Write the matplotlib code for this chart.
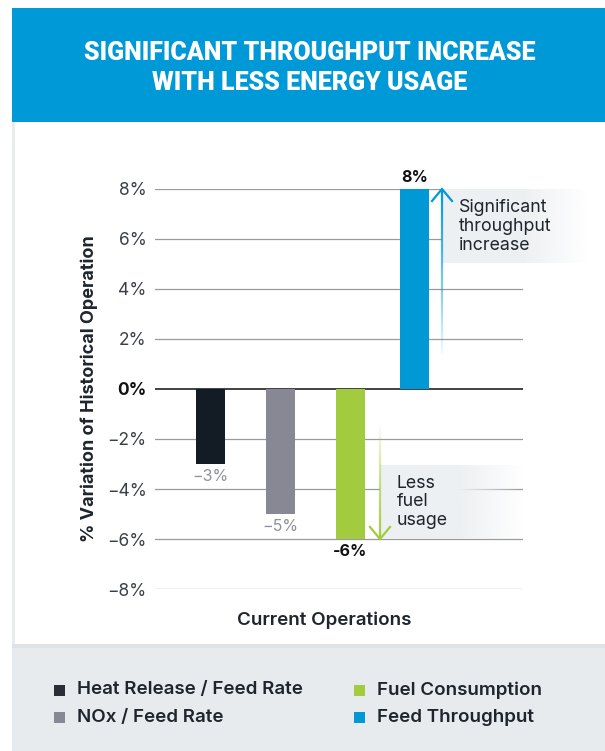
import numpy as np
import matplotlib.pyplot as plt
from matplotlib.patches import Rectangle
from matplotlib.collections import LineCollection

# dados
categorias = ["Heat Release / Feed Rate", "NOx / Feed Rate", "Fuel Consumption", "Feed Throughput"]
variacao = [-3, -5, -6, 8]
cores = ["#131c24", "#878893", "#a3cb3e", "#0099d6"]
yticks = [-8, -6, -4, -2, 0, 2, 4, 6, 8]
titulo = "SIGNIFICANT THROUGHPUT INCREASE\nWITH LESS ENERGY USAGE"

plt.rcParams["font.family"] = ["Inter", "DejaVu Sans"]

W, H = 605, 751
fig = plt.figure(figsize=(W / 100, H / 100), dpi=100)

# fundo em coordenadas de pixel
bg = fig.add_axes([0, 0, 1, 1])
bg.set_xlim(0, W)
bg.set_ylim(H, 0)
bg.axis("off")
bg.add_patch(Rectangle((12, 8), W - 12, 114, color="#0099d7", lw=0))
bg.text(310, 68, titulo, color="white", fontsize=18, fontweight="black",
        family="Roboto", ha="center", va="center", linespacing=1.3)
bg.add_patch(Rectangle((12, 122), 3, 526, color="#e9ecef", lw=0))
bg.add_patch(Rectangle((12, 644), W - 12, 4, color="#dfe3e6", lw=0))
bg.add_patch(Rectangle((12, 648), W - 12, H - 648, color="#e8ebee", lw=0))

# legenda em duas colunas
for i, nome in enumerate(categorias):
    x0 = [54, 354][i // 2]
    y0 = [690, 717.5][i % 2]
    bg.add_patch(Rectangle((x0, y0 - 5.5), 11, 11, color=cores[i] if i != 0 else "#2a2f36", lw=0))
    bg.text(x0 + 23, y0, nome, fontsize=13.5, fontweight="semibold",
            color="#1e252c", va="center", ha="left")

# eixo principal
pos = [0, 1, 2, 2.92]
ax = fig.add_axes([155 / W, (H - 589) / H, (523 - 155) / W, 400 / H])
ax.set_xlim(-55.5 / 70, (523 - 210.5) / 70)
ax.set_ylim(-8, 8)
for s in ax.spines.values():
    s.set_visible(False)
ax.set_yticks(yticks)
ax.set_yticklabels([f"{v}%".replace("-", "\u2212") for v in yticks])
ax.tick_params(axis="y", length=0, pad=6, labelsize=12.5, labelcolor="#3a3f45")
ax.tick_params(axis="x", length=0, labelbottom=False)
for lab in ax.get_yticklabels():
    if lab.get_text() == "0%":
        lab.set_fontweight("bold")
        lab.set_color("#111111")
for v in yticks:
    ax.axhline(v, color="#9a9a9a" if v != 0 else "#333333", lw=0.9 if v != 0 else 1.3, zorder=1)

ax.bar(pos, variacao, width=29 / 70, color=cores, zorder=3)

# rótulos dos valores
for p, v in zip(pos, variacao):
    destaque = v in (8, -6)
    y = v + (0.15 if v > 0 else -0.2)
    ax.text(p, y, f"{v}%".replace("-", "\u2212") if not destaque else f"{v}%",
            ha="center", va="bottom" if v > 0 else "top", fontsize=11.5,
            fontweight="bold" if destaque else "normal",
            color="#111111" if destaque else "#8f9296", zorder=5, clip_on=False)

ax.set_ylabel("% Variation of Historical Operation", fontsize=13, fontweight="bold",
              color="#1e252c", labelpad=6)
ax.set_xlabel("Current Operations", fontsize=13.5, fontweight="semibold", color="#1e252c")
ax.xaxis.set_label_coords(0.46, -0.056)


def caixa(x0, x1, y0, y1):
    grad = np.ones((2, 256, 4))
    base = np.array([0xed, 0xf0, 0xf2]) / 255
    grad[..., :3] = base
    a = np.clip((1 - np.linspace(0, 1, 256)) / 0.45, 0, 1)
    grad[..., 3] = a
    ax.imshow(grad, extent=(x0, x1, y0, y1), aspect="auto", zorder=2,
              clip_on=False, interpolation="bilinear")


def seta(x, y_ini, y_fim, cor):
    ys = np.linspace(y_ini, y_fim, 60)
    segs = [[(x, ys[i]), (x, ys[i + 1])] for i in range(len(ys) - 1)]
    rgba = np.array([plt.matplotlib.colors.to_rgba(cor)] * len(segs))
    rgba[:, 3] = np.linspace(0, 1, len(segs)) ** 0.8
    ax.add_collection(LineCollection(segs, colors=rgba, lw=1.6, zorder=4))
    d = 1 if y_fim > y_ini else -1
    hx, hy = 10 / 70, 12 / 25
    ax.plot([x - hx, x, x + hx], [y_fim - d * hy, y_fim, y_fim - d * hy],
            color=cor, lw=1.6, zorder=4, solid_joinstyle="miter", clip_on=False)


xa = (442 - 210.5) / 70
xb = (380 - 210.5) / 70
caixa(xa, (587 - 210.5) / 70, 8 - 74 / 25, 8)
caixa(xb, (523 - 210.5) / 70, -6, -6 + 74 / 25)
seta(xa, 1.3, 8, "#0099d6")
seta(xb, -1.4, -6, "#a3cb3e")
ax.text(xa + 17 / 70, 7.58, "Significant\nthroughput\nincrease", fontsize=12.8, va="top",
        ha="left", color="#1e252c", linespacing=1.12, zorder=5, clip_on=False)
ax.text(xb + 17 / 70, -3.42, "Less\nfuel\nusage", fontsize=12.8, va="top",
        ha="left", color="#1e252c", linespacing=1.12, zorder=5, clip_on=False)

fig.savefig("out.png", dpi=100)
